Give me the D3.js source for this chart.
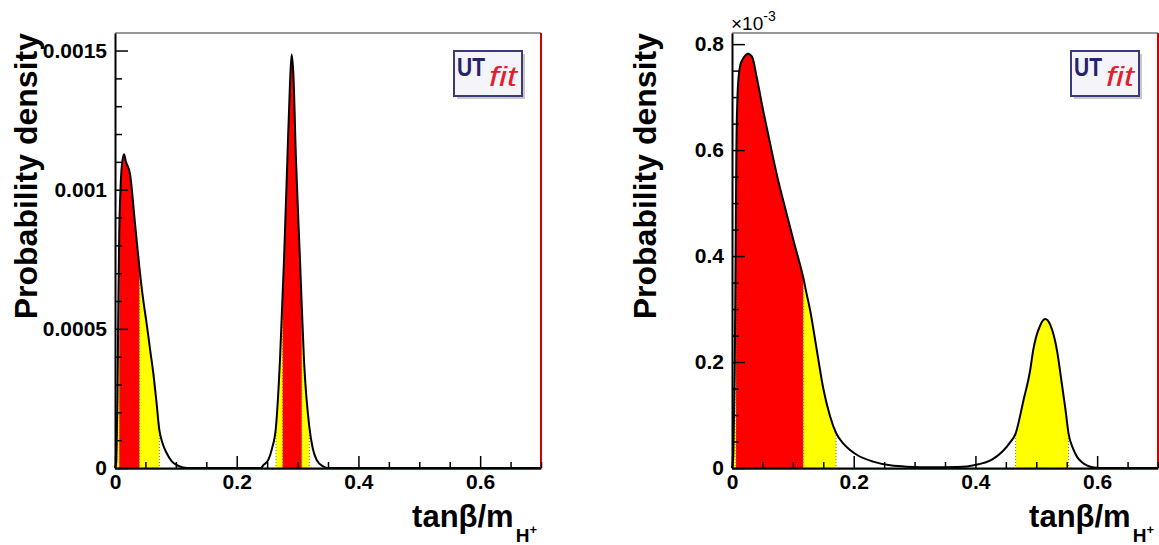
<!DOCTYPE html>
<html>
<head>
<meta charset="utf-8">
<script src="https://cdn.jsdelivr.net/npm/d3@7"></script>
<style>
  html, body { margin: 0; padding: 0; background: #fff; }
  svg { display: block; }
  text { font-family: "Liberation Sans", Arial, Helvetica, sans-serif; }
</style>
</head>
<body>
<svg id="chart" width="1159" height="545"></svg>
<script>
// ---------------- DATA ----------------
// Left panel: tanβ/mH+ probability density
const leftX = [0.000, 0.002, 0.003, 0.004, 0.0055, 0.007, 0.0085, 0.011, 0.0148, 0.018, 0.0246, 0.0329,
  0.040, 0.046, 0.052, 0.058, 0.063, 0.068, 0.0729, 0.078, 0.085, 0.093, 0.101, 0.112, 0.125,
  0.240, 0.2437, 0.2519, 0.258, 0.2645, 0.2711, 0.2777, 0.2832, 0.2875, 0.2903, 0.293, 0.2974,
  0.304, 0.3105, 0.3193, 0.325, 0.3314, 0.342, 0.350, 0.700];
const leftDensity = [0, 0.00002, 0.00012, 0.00025, 0.00058, 0.00085, 0.00097, 0.00108, 0.001127, 0.00110, 0.001058, 0.000878,
  0.000723, 0.00061, 0.000519, 0.00042, 0.00034, 0.00024, 0.000136, 0.00009, 0.000053, 0.000025, 0.000011, 0.000002, 0,
  0, 0.00001, 0.000029, 0.00007, 0.000148, 0.000388, 0.000747, 0.001106, 0.00138, 0.001486, 0.00142, 0.001106,
  0.000747, 0.000388, 0.000148, 0.00007, 0.000029, 0.000006, 0, 0];
const leftYellow = [[0.0027, 0.0729], [0.2645, 0.3193]];
const leftRed = [[0.0071, 0.040], [0.2755, 0.3068]];
const leftYTicks = [0, 0.0005, 0.001, 0.0015];
const leftYTickLabels = ["0", "0.0005", "0.001", "0.0015"];
const leftYMax = 0.001563;

// Right panel: density in units of 10^-3
const rightX = [0, 0.002, 0.003, 0.0044, 0.0058, 0.0072, 0.009, 0.0115, 0.0138, 0.016, 0.0195, 0.0263,
  0.033, 0.041, 0.051, 0.062, 0.073, 0.0895, 0.102, 0.114, 0.117, 0.122, 0.128, 0.139, 0.150, 0.161,
  0.171, 0.183, 0.194, 0.205, 0.232, 0.260, 0.287, 0.330, 0.370, 0.386, 0.405, 0.424, 0.435,
  0.446, 0.456, 0.466, 0.479, 0.490, 0.495, 0.506, 0.5146, 0.523, 0.534, 0.542, 0.548, 0.553, 0.560,
  0.567, 0.575, 0.583, 0.595, 0.610, 0.700];
const rightDensity = [0, 0.02, 0.08, 0.18, 0.38, 0.60, 0.70, 0.745, 0.761, 0.768, 0.775, 0.782,
  0.776, 0.735, 0.676, 0.616, 0.557, 0.481, 0.425, 0.374, 0.360, 0.332, 0.300, 0.225, 0.150, 0.098,
  0.066, 0.046, 0.034, 0.025, 0.012, 0.005, 0.0025, 0.0015, 0.002, 0.003, 0.007, 0.014, 0.022,
  0.033, 0.047, 0.065, 0.128, 0.185, 0.223, 0.268, 0.281, 0.27, 0.222, 0.159, 0.11, 0.065, 0.038,
  0.021, 0.011, 0.005, 0.001, 0, 0];
const rightYellow = [[0.003, 0.171], [0.466, 0.553]];
const rightRed = [[0.0065, 0.117]];
const rightYTicks = [0, 0.2, 0.4, 0.6, 0.8];
const rightYTickLabels = ["0", "0.2", "0.4", "0.6", "0.8"];
const rightYMax = 0.821;

const xTicks = [0, 0.2, 0.4, 0.6];
const xTickLabels = ["0", "0.2", "0.4", "0.6"];
const xDomain = [0, 0.7];

// ---------------- DRAWING ----------------
const svg = d3.select("#chart");
const defs = svg.append("defs");
let clipId = 0;

function drawPanel(cfg) {
  const g = svg.append("g");
  const x = d3.scaleLinear().domain(xDomain).range([cfg.left, cfg.right]);
  const y = d3.scaleLinear().domain([0, cfg.yMax]).range([cfg.bottom, cfg.top]);
  const pts = cfg.xs.map((v, i) => [v, cfg.ys[i]]);

  const area = d3.area().x(d => x(d[0])).y0(y(0)).y1(d => y(d[1])).curve(d3.curveMonotoneX);
  const line = d3.line().x(d => x(d[0])).y(d => y(d[1])).curve(d3.curveMonotoneX);

  const areaClip = "ac" + (clipId++);
  defs.append("clipPath").attr("id", areaClip).append("path").attr("d", area(pts));

  function fillIntervals(intervals, color) {
    intervals.forEach(iv => {
      const id = "iv" + (clipId++);
      defs.append("clipPath").attr("id", id).append("rect")
        .attr("x", x(iv[0])).attr("y", cfg.top)
        .attr("width", x(iv[1]) - x(iv[0])).attr("height", cfg.bottom - cfg.top);
      g.append("path").attr("d", area(pts)).attr("fill", color).attr("clip-path", `url(#${id})`);
    });
  }
  fillIntervals(cfg.yellow, "#ffff00");
  fillIntervals(cfg.red, "#ff0000");

  const bounds = [];
  cfg.yellow.concat(cfg.red).forEach(iv => { bounds.push(iv[0], iv[1]); });
  const dg = g.append("g").attr("clip-path", `url(#${areaClip})`);
  bounds.forEach(b => {
    dg.append("line").attr("x1", x(b)).attr("x2", x(b)).attr("y1", cfg.top).attr("y2", cfg.bottom)
      .attr("stroke", "#777").attr("stroke-width", 1).attr("stroke-dasharray", "1,2");
  });

  g.append("path").attr("d", line(pts)).attr("fill", "none").attr("stroke", "#000")
    .attr("stroke-width", 2).attr("stroke-linejoin", "round");

  g.append("line").attr("x1", cfg.left).attr("x2", cfg.right).attr("y1", cfg.top).attr("y2", cfg.top)
    .attr("stroke", "#333").attr("stroke-width", 1);
  g.append("line").attr("x1", cfg.right).attr("x2", cfg.right).attr("y1", cfg.top).attr("y2", cfg.bottom)
    .attr("stroke", "#d00000").attr("stroke-width", 2);
  g.append("line").attr("x1", cfg.left).attr("x2", cfg.right).attr("y1", cfg.bottom + 1).attr("y2", cfg.bottom + 1)
    .attr("stroke", "#900000").attr("stroke-width", 1);

  const xMinor = d3.range(0, 0.7001, 0.05).filter(v => !xTicks.some(t => Math.abs(t - v) < 1e-9));
  g.append("g").attr("transform", `translate(0,${cfg.bottom})`)
    .call(d3.axisBottom(x).tickValues(xMinor).tickSize(-6).tickSizeOuter(0).tickFormat(""))
    .call(a => a.select(".domain").remove())
    .call(a => a.selectAll("line").attr("stroke", "#000").attr("stroke-width", 1.5));
  const yMinor = d3.range(0, cfg.yMax, cfg.yMinorStep).filter(v => !cfg.yTicks.some(t => Math.abs(t - v) < cfg.yMinorStep / 100));
  g.append("g").attr("transform", `translate(${cfg.left},0)`)
    .call(d3.axisLeft(y).tickValues(yMinor).tickSize(-7).tickSizeOuter(0).tickFormat(""))
    .call(a => a.select(".domain").remove())
    .call(a => a.selectAll("line").attr("stroke", "#000").attr("stroke-width", 1.5));

  const xa = g.append("g").attr("transform", `translate(0,${cfg.bottom})`)
    .call(d3.axisBottom(x).tickValues(xTicks).tickSize(-12).tickSizeOuter(0)
      .tickFormat((d, i) => xTickLabels[i]));
  xa.select(".domain").attr("stroke", "#000").attr("stroke-width", 2);
  xa.selectAll("line").attr("stroke", "#000").attr("stroke-width", 1.5);
  xa.selectAll("text").attr("y", 21).attr("dy", null)
    .attr("font-size", 21).attr("font-weight", "bold").attr("fill", "#000");

  const ya = g.append("g").attr("transform", `translate(${cfg.left},0)`)
    .call(d3.axisLeft(y).tickValues(cfg.yTicks).tickSize(-13).tickSizeOuter(0).tickPadding(8)
      .tickFormat((d, i) => cfg.yTickLabels[i]));
  ya.select(".domain").attr("stroke", "#000").attr("stroke-width", 2);
  ya.selectAll("line").attr("stroke", "#000").attr("stroke-width", 1.5);
  ya.selectAll("text").attr("font-size", 21).attr("font-weight", "bold").attr("fill", "#000");

  svg.append("text").attr("transform", `translate(${cfg.yTitleX},${cfg.top}) rotate(-90)`)
    .attr("text-anchor", "end").attr("font-size", 32).attr("font-weight", "bold")
    .text("Probability density");

  const xt = svg.append("text").attr("x", cfg.right - 4).attr("y", 527)
    .attr("text-anchor", "end").attr("font-size", 31).attr("font-weight", "bold");
  xt.append("tspan").text("tanβ/m");
  xt.append("tspan").attr("font-size", 19).attr("dy", 15).attr("dx", 2).text("H");
  xt.append("tspan").attr("font-size", 13).attr("dy", -8).text("+");

  // UTfit logo
  const lg = svg.append("g").attr("transform", `translate(${cfg.right - 87},51)`);
  lg.append("rect").attr("x", 3).attr("y", 3).attr("width", 68).attr("height", 45).attr("fill", "#c8c8c8");
  lg.append("rect").attr("x", 0).attr("y", 0).attr("width", 68).attr("height", 45)
    .attr("fill", "#f6f4fb").attr("stroke", "#3a3a78").attr("stroke-width", 2);
  lg.append("text").attr("x", 3).attr("y", 25).attr("font-size", 25).attr("font-weight", "bold")
    .attr("textLength", 28).attr("lengthAdjust", "spacingAndGlyphs")
    .attr("fill", "#23236e").text("UT");
  lg.append("text").attr("x", 35).attr("y", 35).attr("font-size", 27).attr("font-style", "italic")
    .attr("textLength", 28).attr("lengthAdjust", "spacingAndGlyphs")
    .attr("font-family", "'Liberation Serif', 'Times New Roman', serif").attr("fill", "#e0202a").text("fit");

  if (cfg.exponent) {
    const et = svg.append("text").attr("x", cfg.left - 1).attr("y", 30).attr("font-size", 19);
    et.append("tspan").text("×10");
    et.append("tspan").attr("font-size", 14).attr("dy", -9).text("-3");
  }
}

drawPanel({
  left: 115, right: 541, top: 33, bottom: 468,
  xs: leftX, ys: leftDensity, yellow: leftYellow, red: leftRed,
  yMax: leftYMax, yTicks: leftYTicks, yTickLabels: leftYTickLabels, yMinorStep: 0.0001,
  yTitleX: 37, exponent: false
});
drawPanel({
  left: 732, right: 1158, top: 33, bottom: 468,
  xs: rightX, ys: rightDensity, yellow: rightYellow, red: rightRed,
  yMax: rightYMax, yTicks: rightYTicks, yTickLabels: rightYTickLabels, yMinorStep: 0.05,
  yTitleX: 656, exponent: true
});
</script>
</body>
</html>
